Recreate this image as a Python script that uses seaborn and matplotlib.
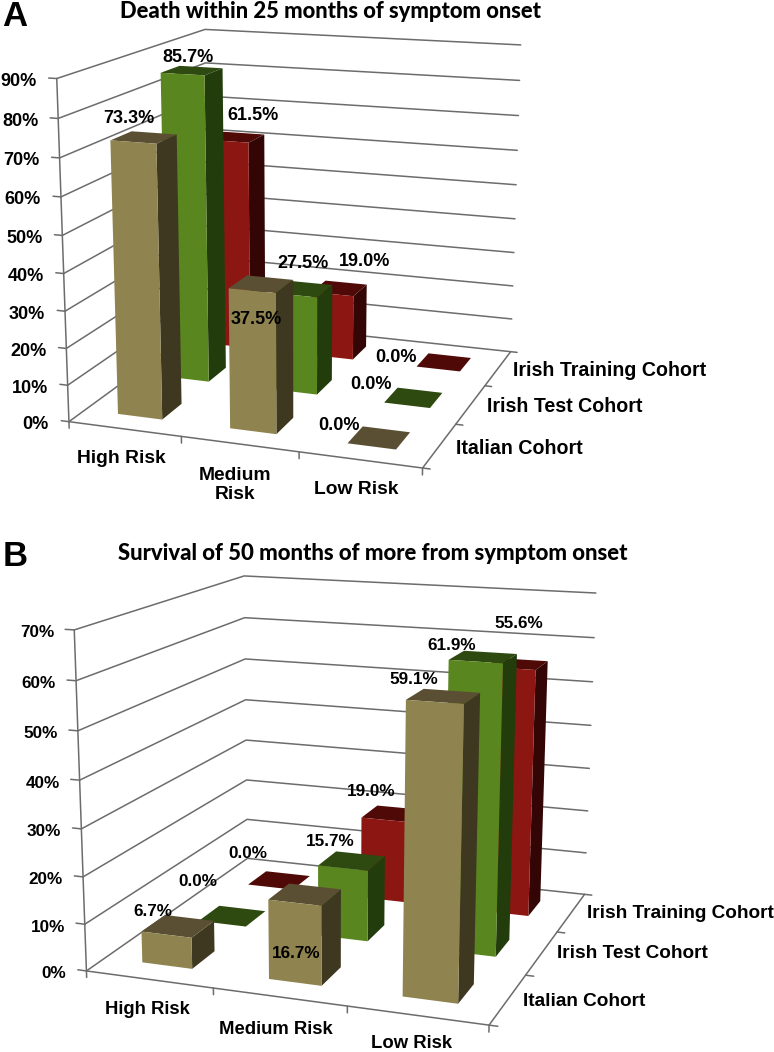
import numpy as np
import seaborn as sns
import matplotlib.pyplot as plt
from mpl_toolkits.mplot3d import proj3d

W, H = 774, 1052

risk = ['High Risk', 'Medium Risk', 'Low Risk']
cohorts = ['Italian Cohort', 'Irish Test Cohort', 'Irish Training Cohort']

death_italian = [73.3, 37.5, 0.0]
death_test = [85.7, 27.5, 0.0]
death_training = [61.5, 19.0, 0.0]

surv_italian = [6.7, 16.7, 59.1]
surv_test = [0.0, 15.7, 61.9]
surv_training = [0.0, 19.0, 55.6]

# front, top, side
italian_cols = ['#8f8350', '#5a4f33', '#3e3820']
test_cols = ['#5a861f', '#2e4a10', '#223c0c']
training_cols = ['#8c1612', '#4f0a08', '#330505']

# camera calibration: (x, depth, percent) -> pixel
cam_a = [
    ((0, 0, 0), (69, 421)), ((1, 0, 0), (182, 437)), ((2, 0, 0), (298, 452)), ((3, 0, 0), (421, 468)),
    ((3, 1, 0), (458, 424)), ((3, 2, 0), (486, 386)), ((3, 3, 0), (510, 351)),
    ((0, 0, 90), (57, 79)), ((0, 0, 50), (62, 235)), ((0, 3, 90), (205, 29)),
    ((3, 3, 90), (521, 45)), ((3, 3, 50), (516, 185)), ((3, 3, 20), (512, 286)),
    ((0, 3, 0), (209, 320)),
]
cam_b = [
    ((0, 0, 0), (87, 971)), ((1, 0, 0), (213, 988)), ((2, 0, 0), (347, 1006)), ((3, 0, 0), (487, 1026)),
    ((3, 1, 0), (528, 974)), ((3, 2, 0), (558, 932)), ((3, 3, 0), (584, 894)),
    ((0, 0, 70), (74, 630)), ((0, 0, 40), (80, 780)), ((0, 0, 20), (83, 877)),
    ((0, 3, 70), (244, 576)), ((0, 3, 40), (246, 699)), ((0, 3, 0), (247, 859)),
    ((3, 3, 70), (596, 593)), ((3, 3, 40), (591, 726)), ((3, 3, 20), (587, 811)),
]

# where the text sits, in picture pixels
label_xy_a = [[(129, 117), (256, 317), (339, 423)],
              [(188, 56), (303, 262), (371, 383)],
              [(253, 114), (365, 259), (396, 355)]]
label_xy_b = [[(153, 909), (296, 951), (414, 677)],
              [(198, 879), (330, 840), (452, 644)],
              [(248, 851), (371, 790), (519, 622)]]
risk_xy_a = [(121, 457), (235, 483), (356, 488)]
risk_xy_b = [(147, 1007), (276, 1027), (412, 1042)]
cohort_xy_a = [(456, 446), (487, 404), (513, 368)]
cohort_xy_b = [(523, 999), (557, 952), (587, 912)]


def fit_camera(cam):
    A, b = [], []
    for (x, y, z), (u, v) in cam:
        v = H - v
        A.append([x, y, z, 1, 0, 0, 0, 0, -u * x, -u * y, -u * z])
        A.append([0, 0, 0, 0, x, y, z, 1, -v * x, -v * y, -v * z])
        b += [u, v]
    p = np.linalg.lstsq(np.array(A, float), np.array(b, float), rcond=None)[0]
    return np.array([p[:4], p[4:8], [0, 1, 0, 0], [p[8], p[9], p[10], 1]])


def put(fig, x, y, s, size, ha='center', family='Liberation Sans', weight='bold'):
    # +2: va='center' sits a little high for these fonts
    fig.text(x / W, 1 - (y + 2) / H, s, fontsize=size, ha=ha, va='center', weight=weight,
             family=family, color='black')


def panel(fig, bottom, cam, values, ticks, label_xy, risk_xy, cohort_xy, risk_names, sizes):
    M = fit_camera(cam)
    ax = fig.add_axes([0, bottom / H, 1, W / H], projection='3d')
    ax.set_axis_off()
    ax.patch.set_alpha(0)
    ax.computed_zorder = False
    ax.set_proj_type('ortho')  # stops Line3D clipping to the unit cube

    def get_proj():
        ax.viewLim.intervalx = (0, W)
        ax.viewLim.intervaly = (bottom, bottom + W)
        return M
    ax.get_proj = get_proj

    grid = dict(color='#6c6c6c', lw=1.1, zorder=1)
    zmax = ticks[-1]
    for t in ticks:
        ax.plot([0, 0, 3], [0, 3, 3], [t, t, t], **grid)
        ax.plot([-0.07, 0], [0, 0], [t, t], **grid)
    ax.plot([0, 0], [0, 0], [0, zmax], **grid)
    ax.plot([0, 3, 3], [0, 0, 3], [0, 0, 0], **grid)
    for i in range(4):
        ax.plot([i, i], [0, 0], [0, -zmax * 0.02], **grid)
        ax.plot([3, 3.06], [i, i], [0, 0], **grid)

    palette = [italian_cols, test_cols, training_cols]
    w = 0.4
    # back row first, left to right inside a row
    for j in [2, 1, 0]:
        cols = sns.color_palette(palette[j])
        for i in range(3):
            faces = [(0, 0, 0, 0), cols[1], cols[0], (0, 0, 0, 0), (0, 0, 0, 0), cols[2]]
            ax.bar3d(i + 0.5 - w / 2, j + 0.5 - w / 2, 0, w, w, values[j][i], color=faces,
                     shade=False, edgecolor='none', zorder=10 + (2 - j) * 10 + i)

    lab_size, risk_size, cohort_size = sizes
    for t in ticks:
        px, py, _ = proj3d.proj_transform(0, 0, t, M)
        put(fig, px - 20, H - py + 1, f'{t}%', lab_size, ha='right')
    for j in range(3):
        for i in range(3):
            put(fig, *label_xy[j][i], f'{values[j][i]:.1f}%', lab_size)
        put(fig, *cohort_xy[j], cohorts[j], cohort_size, ha='left')
    for i in range(3):
        put(fig, *risk_xy[i], risk_names[i], risk_size)
    ax.set_xlim(0, 3)
    ax.set_ylim(0, 3)
    ax.set_zlim(0, zmax)
    return ax


sns.set_theme(style='white')
plt.rcParams['font.family'] = ['Liberation Sans', 'DejaVu Sans']
fig = plt.figure(figsize=(W / 100, H / 100), dpi=100, facecolor='white')

panel(fig, H - W, cam_a, [death_italian, death_test, death_training], list(range(0, 100, 10)),
      label_xy_a, risk_xy_a, cohort_xy_a, ['High Risk', 'Medium\nRisk', 'Low Risk'], (13, 13.9, 14.1))
panel(fig, 0, cam_b, [surv_italian, surv_test, surv_training], list(range(0, 80, 10)),
      label_xy_b, risk_xy_b, cohort_xy_b, risk, (12.3, 13.3, 13.65))

put(fig, 330, 10, 'Death within 25 months of symptom onset', 15.8, family='Lato', weight=900)
put(fig, 373, 552, 'Survival of 50 months of more from symptom onset', 15.9, family='Lato', weight=900)
put(fig, 15, 15, 'A', 25)
put(fig, 15, 554, 'B', 25)

fig.savefig('out.png', dpi=100)
